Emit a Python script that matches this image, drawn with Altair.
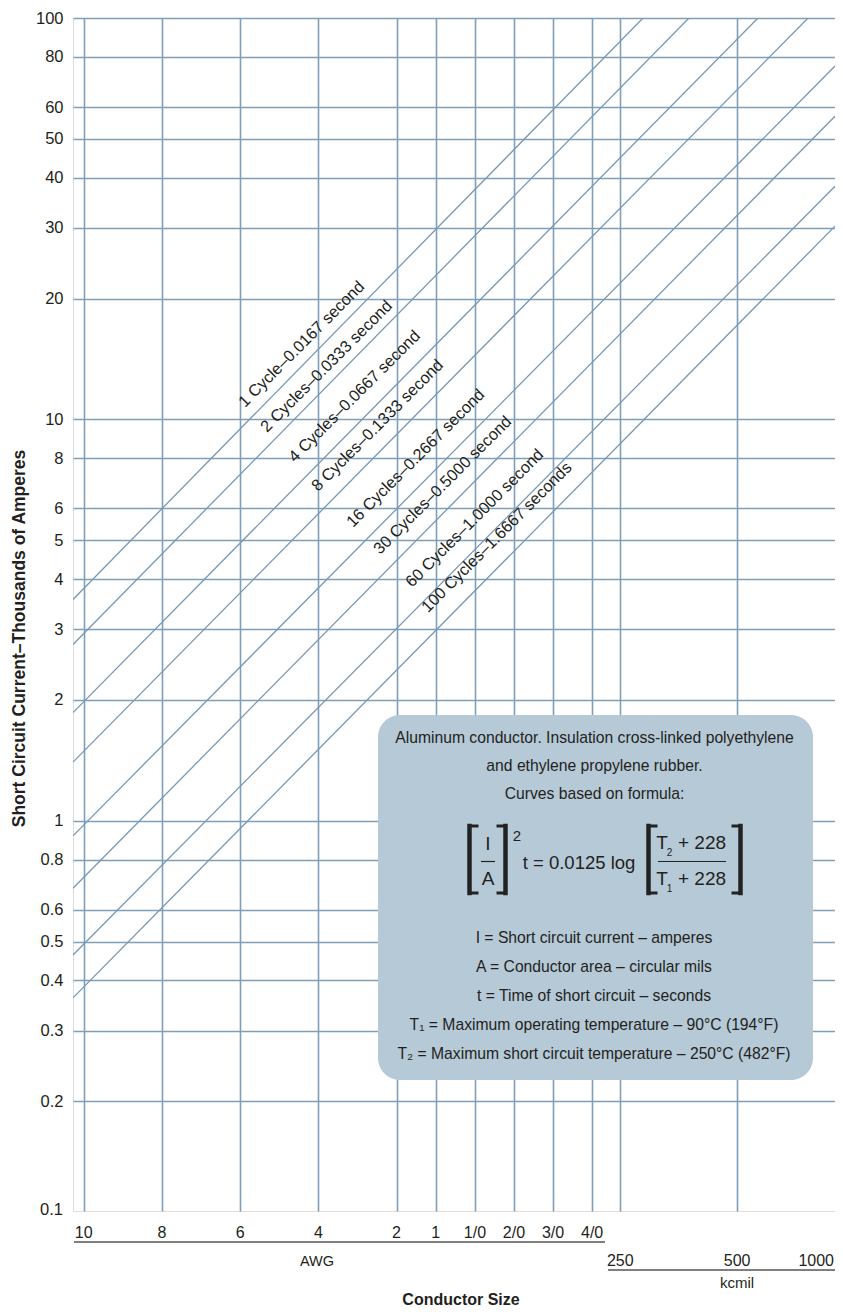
import altair as alt
import pandas as pd

FONT = "Liberation Sans"

# ---- values ----
cycle_labels = [
    "1 Cycle–0.0167 second", "2 Cycles–0.0333 second", "4 Cycles–0.0667 second",
    "8 Cycles–0.1333 second", "16 Cycles–0.2667 second", "30 Cycles–0.5000 second",
    "60 Cycles–1.0000 second", "100 Cycles–1.6667 seconds",
]
line_start_cmil = [9740, 9740, 9740, 9740, 9740, 9740, 9740, 9740]
line_start_ka = [3.56, 2.75, 1.86, 1.40, 0.917, 0.679, 0.463, 0.362]
line_end_cmil = [286200, 375900, 565900, 761500, 893400, 893400, 893400, 893400]
line_end_ka = [100, 100, 100, 100, 75.9, 56.9, 38.1, 30.3]
label_cmil = [27010, 30780, 36340, 41650, 51240, 60150, 72720, 79950]
label_ka = [10.68, 9.25, 7.79, 6.59, 5.36, 4.59, 3.80, 3.29]

awg_labels = ["10", "8", "6", "4", "2", "1", "1/0", "2/0", "3/0", "4/0"]
awg_cmil = [10380, 16510, 26240, 41740, 66360, 83690, 105600, 133100, 167800, 211600]
kcmil_labels = ["250", "500", "1000"]
kcmil_cmil = [250000, 500000, 1000000]
y_ticks = [0.2, 0.3, 0.4, 0.5, 0.6, 0.8, 1, 2, 3, 4, 5, 6, 8, 10, 20, 30, 40, 50, 60, 80, 100]

note_lines = [
    "Aluminum conductor. Insulation cross-linked polyethylene",
    "and ethylene propylene rubber.",
    "Curves based on formula:",
]
legend_lines = [
    "I = Short circuit current – amperes",
    "A = Conductor area – circular mils",
    "t = Time of short circuit – seconds",
    "T₁ = Maximum operating temperature – 90°C (194°F)",
    "T₂ = Maximum short circuit temperature – 250°C (482°F)",
]

# ---- layout ----
W, H = 762, 1193
GRID = "#7f9fb9"
LINE = "#7898b4"
TXT = "#231f20"
BOX = "#b6c9d7"

xscale = alt.Scale(type="log", domain=[9740, 893400], nice=False)
yscale = alt.Scale(type="log", domain=[0.1066, 100], nice=False)

rows = []
for i, lab in enumerate(cycle_labels):
    rows.append({"series": lab, "A": line_start_cmil[i], "I": line_start_ka[i]})
    rows.append({"series": lab, "A": line_end_cmil[i], "I": line_end_ka[i]})
lines_df = pd.DataFrame(rows)
labels_df = pd.DataFrame({"series": cycle_labels, "A": label_cmil, "I": label_ka})
awg_df = pd.DataFrame({"lab": awg_labels, "A": awg_cmil})
kc_df = pd.DataFrame({"lab": kcmil_labels, "A": kcmil_cmil})

dummy = pd.DataFrame({"d": [0]})

lines = alt.Chart(lines_df).mark_line(color=LINE, strokeWidth=1.3, clip=True).encode(
    x=alt.X("A:Q", scale=xscale,
            axis=alt.Axis(values=awg_cmil + kcmil_cmil[:2], labels=False, ticks=False,
                          domain=False, grid=True, gridColor=GRID, gridWidth=1.6,
                          gridOpacity=1, title=None)),
    y=alt.Y("I:Q", scale=yscale,
            axis=alt.Axis(values=y_ticks, format="~g", ticks=False, domain=False,
                          grid=True, gridColor=GRID, gridWidth=1.6, gridOpacity=1,
                          labelFont=FONT, labelFontSize=16.5, labelColor=TXT,
                          labelPadding=10,
                          title="Short Circuit Current–Thousands of Amperes",
                          titleFont=FONT, titleFontSize=17.5, titleFontWeight="bold",
                          titleColor=TXT, titleAngle=270, titleX=-54, titleY=620,
                          titleAlign="center", titleBaseline="middle")),
    detail="series:N",
)

cyc_text = alt.Chart(labels_df).mark_text(
    angle=315, align="left", baseline="alphabetic", font=FONT, fontSize=16.3, color=TXT
).encode(x=alt.X("A:Q", scale=xscale), y=alt.Y("I:Q", scale=yscale), text="series:N")


def txt(s, x, y, size=16, align="center", baseline="middle", weight="normal"):
    return alt.Chart(dummy).mark_text(
        text=s, font=FONT, fontSize=size, align=align, baseline=baseline,
        fontWeight=weight, color=TXT
    ).encode(x=alt.value(x), y=alt.value(y))


def seg(x1, y1, x2, y2, w=1.5, color="#444", cap="butt"):
    return alt.Chart(dummy).mark_rule(strokeWidth=w, color=color, strokeCap=cap).encode(
        x=alt.value(x1), y=alt.value(y1), x2=alt.value(x2), y2=alt.value(y2)
    )


layers = [lines, cyc_text]

# annotation box
box = alt.Chart(dummy).mark_rect(color=BOX, cornerRadius=22).encode(
    x=alt.value(305), x2=alt.value(740), y=alt.value(697), y2=alt.value(1062)
)
layers.append(box)
for i, s in enumerate(note_lines):
    layers.append(txt(s, 521.5, 720 + 28 * i, size=15.7))


# formula
def bracket(xbar, xtip, ytop, ybot):
    return [seg(xbar, ytop, xbar, ybot, w=4.5, color="#222", cap="square"),
            seg(xbar, ytop, xtip, ytop, w=3, color="#222", cap="square"),
            seg(xbar, ybot, xtip, ybot, w=3, color="#222", cap="square")]


layers += bracket(396.5, 404, 808, 875)
layers += bracket(432.5, 425, 808, 875)
layers.append(txt("I", 415, 826, size=19))
layers.append(seg(408, 843.5, 422, 843.5, w=1.2, color="#222"))
layers.append(txt("A", 415, 861, size=19))
layers.append(txt("2", 444, 818, size=15))
layers.append(txt("t = 0.0125 log", 506, 845, size=18.5))
layers += bracket(575.5, 583, 808, 875)
layers += bracket(667.5, 660, 808, 875)
layers.append(txt("T", 589, 825, size=19))
layers.append(txt("2", 596.5, 835, size=10))
layers.append(txt("+ 228", 629, 825, size=19))
layers.append(seg(585, 843.5, 653, 843.5, w=1.2, color="#222"))
layers.append(txt("T", 589, 861, size=19))
layers.append(txt("1", 596.5, 871, size=10))
layers.append(txt("+ 228", 629, 861, size=19))

for i, s in enumerate(legend_lines):
    layers.append(txt(s, 521, 920 + 29 * i, size=15.7))

# 0.1 label at the bottom edge
layers.append(txt("0.1", -10, H - 1, size=16.5, align="right"))

# x-axis label rows
awg_text = alt.Chart(awg_df).mark_text(
    font=FONT, fontSize=16, color=TXT, baseline="alphabetic"
).encode(x=alt.X("A:Q", scale=xscale), y=alt.value(1220), text="lab:N")
kc_text = alt.Chart(kc_df).transform_filter("datum.lab != '1000'").mark_text(
    font=FONT, fontSize=16, color=TXT, baseline="alphabetic"
).encode(x=alt.X("A:Q", scale=xscale), y=alt.value(1248), text="lab:N")
kc_text2 = alt.Chart(kc_df).transform_filter("datum.lab == '1000'").mark_text(
    font=FONT, fontSize=16, color=TXT, baseline="alphabetic", align="right", dx=-20
).encode(x=alt.X("A:Q", scale=xscale), y=alt.value(1248), text="lab:N")
layers += [awg_text, kc_text, kc_text2]
layers.append(seg(1, 1224, 532, 1224, w=1.5, color="#555"))
layers.append(seg(535, 1252, 762, 1252, w=1.5, color="#555"))
layers.append(txt("AWG", 244, 1248, size=14.5, baseline="alphabetic"))
layers.append(txt("kcmil", 664, 1270, size=15, baseline="alphabetic"))
layers.append(txt("Conductor Size", 388, 1287, size=16, baseline="alphabetic", weight="bold"))

chart = alt.layer(*layers).properties(
    width=W, height=H,
    autosize=alt.AutoSizeParams(type="none"),
    padding={"left": 65, "top": 10, "right": 0, "bottom": 102},
).configure_view(
    fill="#eef3f6", stroke=GRID, strokeWidth=1.6
).configure(background="white")

chart.save("out.html", embed_options={"renderer": "svg", "actions": False})
